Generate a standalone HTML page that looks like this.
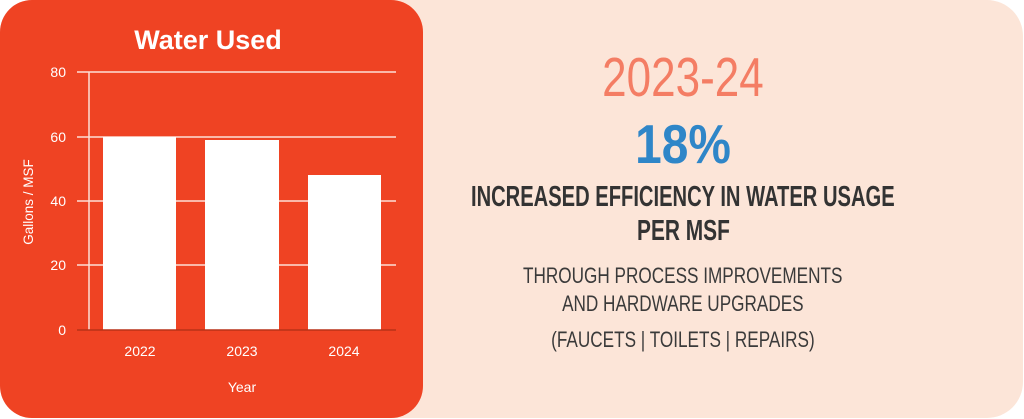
<!DOCTYPE html>
<html><head><meta charset="utf-8"><style>
body{margin:0;width:1024px;height:419px;background:#fff;overflow:hidden;position:relative;font-family:"Liberation Sans",sans-serif}
.beige{position:absolute;left:380px;top:0;width:643px;height:418px;background:#fce5d8;border-radius:0 36px 36px 0}
.red{position:absolute;left:0;top:0;width:423px;height:418px;background:#ef4323;border-radius:32px}
.t{position:absolute;left:0;width:1024px;text-align:center;white-space:nowrap}
.t span{display:inline-block}
</style></head><body>
<div class="beige"></div>
<div class="red"></div>
<svg width="430" height="419" style="position:absolute;left:0;top:0" font-family="Liberation Sans, sans-serif">
<text x="208" y="49" fill="#fff" font-size="27" font-weight="bold" text-anchor="middle">Water Used</text>
<g stroke="#fde0d6" stroke-width="1.5">
<line x1="77" y1="72" x2="396" y2="72"/><line x1="77" y1="137" x2="396" y2="137"/>
<line x1="77" y1="201" x2="396" y2="201"/><line x1="77" y1="265" x2="396" y2="265"/>
<line x1="89" y1="72" x2="89" y2="330"/>
</g>
<rect x="103" y="137" width="73" height="193" fill="#fff"/>
<rect x="205" y="140" width="74" height="190" fill="#fff"/>
<rect x="308" y="175" width="73" height="155" fill="#fff"/>
<line x1="77" y1="330" x2="396" y2="330" stroke="#b83218" stroke-width="1.5"/>
<g fill="#fff" font-size="14" text-anchor="end">
<text x="66" y="77">80</text><text x="66" y="142">60</text><text x="66" y="206">40</text><text x="66" y="270">20</text><text x="66" y="335">0</text>
</g>
<g fill="#fff" font-size="14" text-anchor="middle">
<text x="140" y="356">2022</text><text x="242" y="356">2023</text><text x="344" y="356">2024</text>
<text x="242" y="392">Year</text>
</g>
<text transform="translate(33,202) rotate(-90)" fill="#fff" font-size="13.5" text-anchor="middle">Gallons / MSF</text>
</svg>
<div class="t" style="left:171px;top:47px;font-size:55px;line-height:60px;color:#f47d64"><span style="transform:scaleX(0.8)">2023-24</span></div>
<div class="t" style="left:171px;top:114px;font-size:55px;line-height:60px;color:#2f86c8;font-weight:bold"><span style="transform:scaleX(0.87)">18%</span></div>
<div class="t" style="left:171px;top:181px;font-size:29px;line-height:33px;color:#333;font-weight:bold"><span style="transform:scaleX(0.695)">INCREASED EFFICIENCY IN WATER USAGE</span></div>
<div class="t" style="left:171px;top:215px;font-size:29px;line-height:33px;color:#333;font-weight:bold"><span style="transform:scaleX(0.72)">PER MSF</span></div>
<div class="t" style="left:171px;top:262px;font-size:22px;line-height:28px;color:#3a3a3a"><span style="transform:scaleX(0.78)">THROUGH PROCESS IMPROVEMENTS</span></div>
<div class="t" style="left:171px;top:290px;font-size:22px;line-height:28px;color:#3a3a3a"><span style="transform:scaleX(0.78)">AND HARDWARE UPGRADES</span></div>
<div class="t" style="left:171px;top:326px;font-size:22px;line-height:28px;color:#3a3a3a"><span style="transform:scaleX(0.78)">(FAUCETS | TOILETS | REPAIRS)</span></div>
</body></html>
